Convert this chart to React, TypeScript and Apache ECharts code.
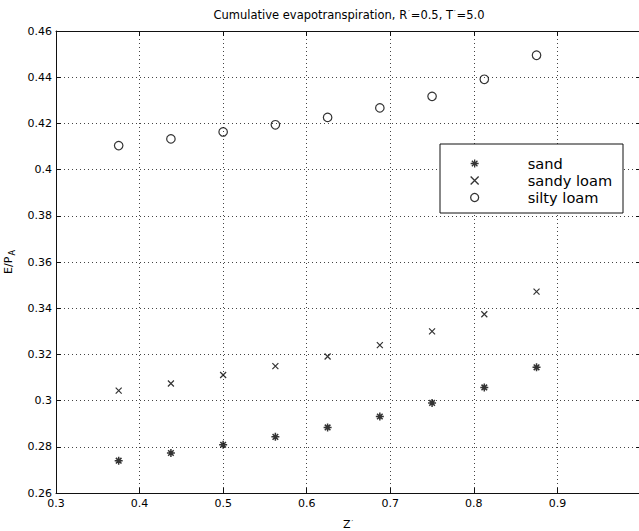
import React, { useEffect, useRef } from "react";
import * as echarts from "echarts";

// Dimensionless depth z' of each run
const zValues = [0.375, 0.4375, 0.5, 0.5625, 0.625, 0.6875, 0.75, 0.8125, 0.875];

// Cumulative evapotranspiration ratio E/P_A per soil type
const sandValues = [0.274, 0.2773, 0.2809, 0.2843, 0.2884, 0.2931, 0.299, 0.3057, 0.3144];
const sandyLoamValues = [0.3043, 0.3074, 0.3111, 0.3149, 0.3191, 0.324, 0.33, 0.3374, 0.3472];
const siltyLoamValues = [0.4104, 0.4133, 0.4163, 0.4194, 0.4226, 0.4267, 0.4317, 0.4391, 0.4495];

const seriesNames = ["sand", "sandy loam", "silty loam"];

// Axis ranges and tick steps
const xMin = 0.3;
const xMax = 1.0;
const xStep = 0.1;
const yMin = 0.26;
const yMax = 0.46;
const yStep = 0.02;

const FONT = "'DejaVu Sans', 'Liberation Sans', Arial, sans-serif";

const STAR = "path://M4,0L4,8M0,4L8,4M1.2,1.2L6.8,6.8M6.8,1.2L1.2,6.8";
const CROSS = "path://M0,0L6,6M6,0L0,6";

function pairs(ys: number[]) {
  return zValues.map((z, i) => [z, ys[i]]);
}

export default function App() {
  const ref = useRef<HTMLDivElement>(null);

  useEffect(() => {
    if (!ref.current) return;
    const chart = echarts.init(ref.current, null, { renderer: "svg" });

    const gridLine = { show: true, lineStyle: { color: "#444", width: 1, type: [1, 3] as any } };
    const frameLine = { show: true, lineStyle: { color: "#111", width: 1 } };
    const innerTick = { show: true, inside: true, length: 5, lineStyle: { color: "#111", width: 1 } };
    const tickLabel = { color: "#000", fontSize: 11, fontFamily: FONT };
    const primeStyle = { fontSize: 7, fontFamily: FONT, color: "#000", verticalAlign: "top", padding: [0, 1, 3, 1] };

    chart.setOption({
      animation: false,
      backgroundColor: "#fff",
      title: {
        text: "Cumulative evapotranspiration, R{p|′}=0.5, T{p|′}=5.0",
        left: 349,
        top: 9,
        padding: 0,
        textAlign: "center",
        textStyle: {
          color: "#000",
          fontSize: 11.5,
          fontWeight: "normal",
          fontFamily: FONT,
          rich: { p: primeStyle },
        },
      },
      grid: { left: 56, top: 31, width: 585, height: 462, containLabel: false, outerBoundsMode: "none" },
      xAxis: [
        {
          type: "value",
          min: xMin,
          max: xMax,
          interval: xStep,
          position: "bottom",
          axisLine: frameLine,
          axisTick: innerTick,
          splitLine: gridLine,
          axisLabel: { ...tickLabel, margin: 5, showMaxLabel: false },
          name: "Z{p|′}",
          nameLocation: "middle",
          nameGap: 26,
          nameTextStyle: {
            color: "#000",
            fontSize: 11,
            fontFamily: FONT,
            rich: { p: primeStyle },
          },
        },
        {
          type: "value",
          min: xMin,
          max: xMax,
          interval: xStep,
          position: "top",
          axisLine: frameLine,
          axisTick: innerTick,
          splitLine: { show: false },
          axisLabel: { show: false },
        },
      ],
      yAxis: [
        {
          type: "value",
          min: yMin,
          max: yMax,
          interval: yStep,
          position: "left",
          axisLine: frameLine,
          axisTick: innerTick,
          splitLine: gridLine,
          axisLabel: { ...tickLabel, margin: 4 },
          name: "E/P{s|A}",
          nameLocation: "middle",
          nameGap: 33,
          nameRotate: 90,
          nameTextStyle: {
            color: "#000",
            fontSize: 11,
            fontFamily: FONT,
            verticalAlign: "top",
            rich: { s: { fontSize: 8, fontFamily: FONT, color: "#000", verticalAlign: "top", padding: [8, 0, 0, 1] } },
          },
        },
        {
          type: "value",
          min: yMin,
          max: yMax,
          interval: yStep,
          position: "right",
          axisLine: frameLine,
          axisTick: innerTick,
          splitLine: { show: false },
          axisLabel: { show: false },
        },
      ],
      legend: {
        orient: "vertical",
        left: 470,
        top: 155,
        padding: 0,
        itemGap: 0,
        itemWidth: 96,
        itemHeight: 8,
        selectedMode: false,
        data: seriesNames,
        itemStyle: { borderWidth: 1.3 },
        textStyle: { color: "#000", fontSize: 14.6, lineHeight: 17, fontFamily: FONT },
      },
      graphic: [
        {
          type: "rect",
          z: 3,
          shape: { x: 440, y: 144, width: 183, height: 69 },
          style: { fill: "#fff", stroke: "#111", lineWidth: 1 },
        },
      ],
      series: [
        {
          name: seriesNames[0],
          type: "scatter",
          data: pairs(sandValues),
          symbol: STAR,
          symbolSize: 8,
          itemStyle: { color: "rgba(0,0,0,0)", borderColor: "#000", borderWidth: 1.5 },
        },
        {
          name: seriesNames[1],
          type: "scatter",
          data: pairs(sandyLoamValues),
          symbol: CROSS,
          symbolSize: 6,
          itemStyle: { color: "rgba(0,0,0,0)", borderColor: "#000", borderWidth: 1.2 },
        },
        {
          name: seriesNames[2],
          type: "scatter",
          data: pairs(siltyLoamValues),
          symbol: "circle",
          symbolSize: 8.5,
          itemStyle: { color: "rgba(0,0,0,0)", borderColor: "#000", borderWidth: 1.2 },
        },
      ],
    });

    return () => chart.dispose();
  }, []);

  return (
    <div
      ref={ref}
      style={{ position: "fixed", left: 0, top: 0, width: 639, height: 531, background: "#fff" }}
    />
  );
}
